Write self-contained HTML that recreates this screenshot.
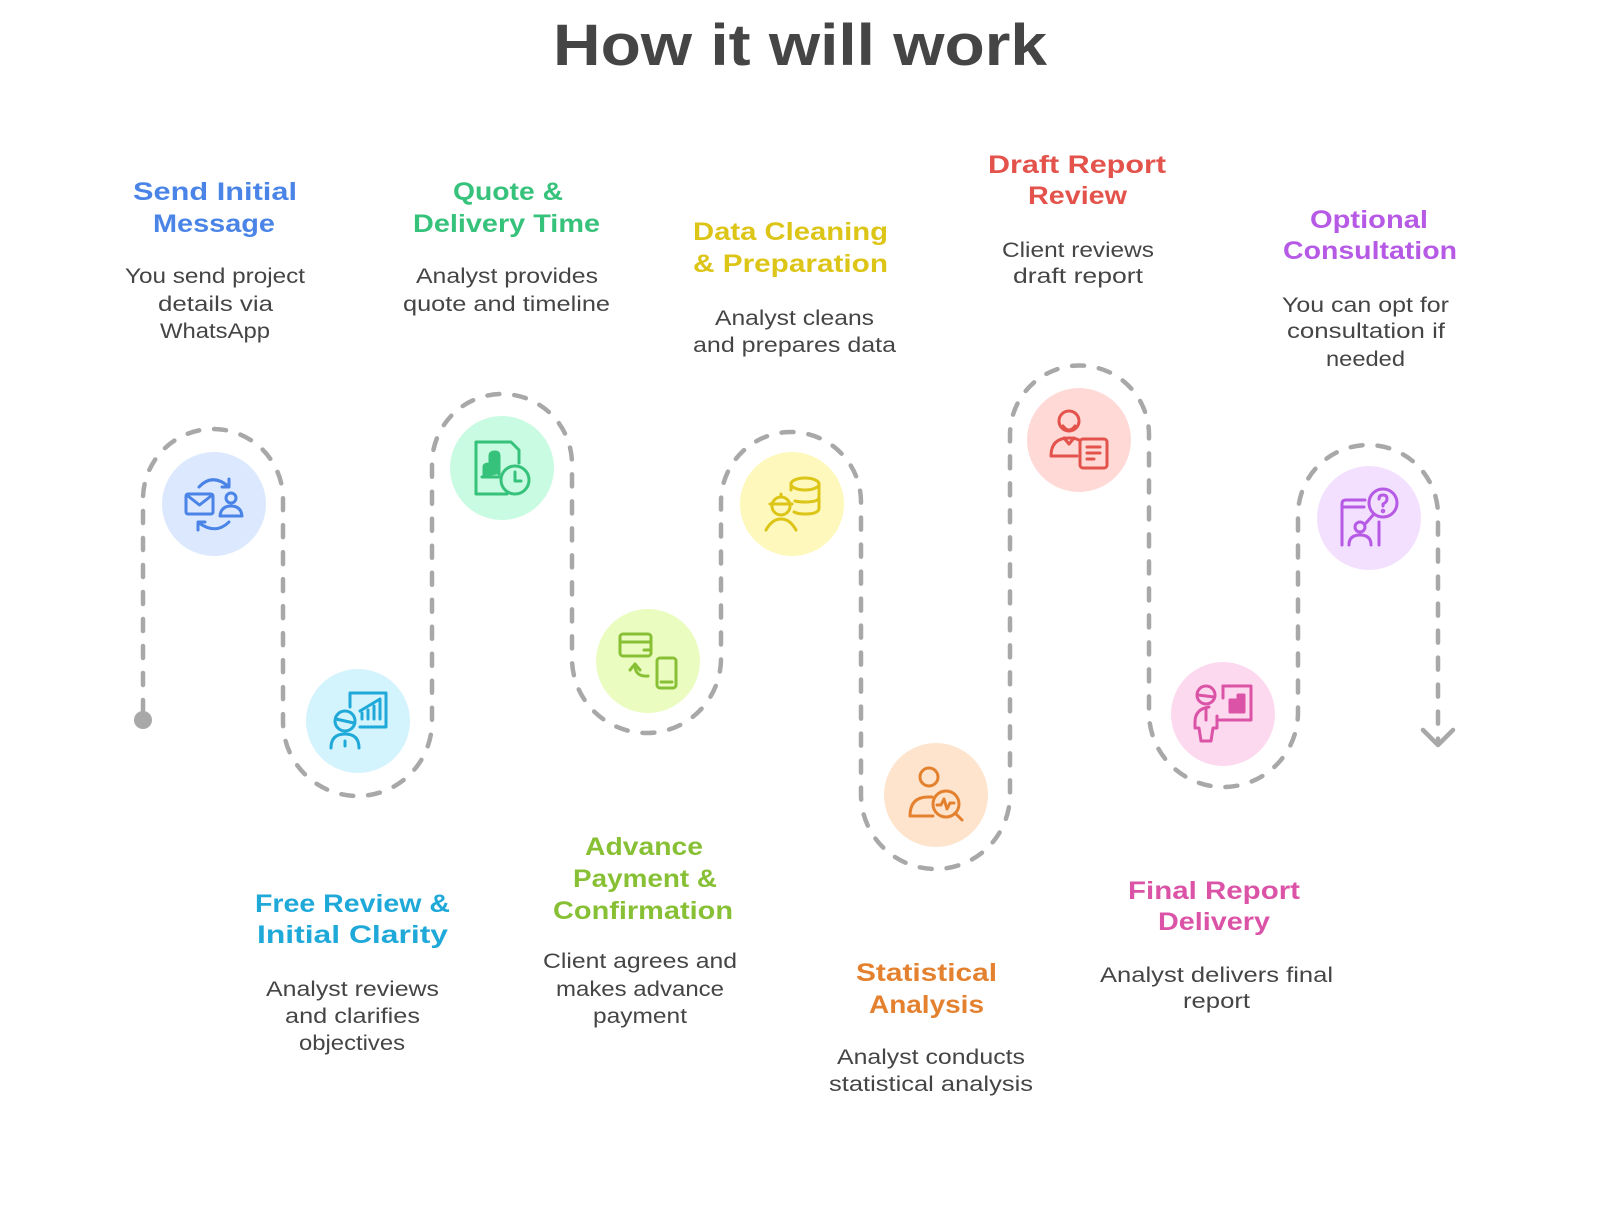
<!DOCTYPE html>
<html>
<head>
<meta charset="utf-8">
<style>
  html,body{margin:0;padding:0;background:#fff;}
  body{width:1600px;height:1206px;overflow:hidden;}
  svg{display:block;}
  .h{font-family:"Liberation Sans",sans-serif;font-weight:bold;font-size:25px;}
  .d{font-family:"Liberation Sans",sans-serif;font-size:21px;fill:#454545;}
  .ic{fill:none;stroke-width:3;stroke-linecap:round;stroke-linejoin:round;}
</style>
</head>
<body>
<svg width="1600" height="1206" viewBox="0 0 1600 1206" xmlns="http://www.w3.org/2000/svg">
  <rect width="1600" height="1206" fill="#fff"/>

  <!-- Title -->
  <text x="553" y="65" font-family="Liberation Sans, sans-serif" font-weight="bold" font-size="58" fill="#454545" textLength="494" lengthAdjust="spacingAndGlyphs">How it will work</text>

  <!-- Dashed path -->
  <path d="M143,712 L143,499 A70,70 0 0 1 283,499 L283,721.5 A74.5,74.5 0 0 0 432,721.5 L432,464 A70,70 0 0 1 572,464 L572,658.5 A74.5,74.5 0 0 0 721,658.5 L721,502 A70,70 0 0 1 861,502 L861,794.5 A74.5,74.5 0 0 0 1010,794.5 L1010,435 A69.5,69.5 0 0 1 1149,435 L1149,712.5 A74.5,74.5 0 0 0 1298,712.5 L1298,515 A70,70 0 0 1 1438,515 L1438,742"
        fill="none" stroke="#a8a8a8" stroke-width="4.5" stroke-dasharray="12 15" stroke-linecap="round"/>
  <circle cx="143" cy="720" r="9" fill="#a8a8a8"/>
  <path d="M1423,730 L1438,745 L1453,730" fill="none" stroke="#a8a8a8" stroke-width="4.5" stroke-linecap="round" stroke-linejoin="round"/>

  <!-- Node circles -->
  <circle cx="214" cy="504" r="52" fill="#dce8fd"/>
  <circle cx="358" cy="721" r="52" fill="#d3f3fd"/>
  <circle cx="502" cy="468" r="52" fill="#c9fbe2"/>
  <circle cx="648" cy="661" r="52" fill="#eafcc0"/>
  <circle cx="792" cy="504" r="52" fill="#fef8bd"/>
  <circle cx="936" cy="795" r="52" fill="#fee4cc"/>
  <circle cx="1079" cy="440" r="52" fill="#fed9d6"/>
  <circle cx="1223" cy="714" r="52" fill="#fdd9ef"/>
  <circle cx="1369" cy="518" r="52" fill="#f3e0fe"/>

  <!-- Icon 1: blue -->
  <g transform="translate(214,504)" class="ic" stroke="#4a84e6">
    <rect x="-28" y="-10" width="27" height="20" rx="2"/>
    <path d="M-26,-8 L-14.5,1 L-3,-8"/>
    <circle cx="17" cy="-6" r="5"/>
    <path d="M6,12 Q7,2 17,2 Q27,2 28,12 Z"/>
    <path d="M-15,-17 Q-2,-31 14,-18"/>
    <path d="M15,-25 L15,-17 L8,-17"/>
    <path d="M15,18 Q2,31 -15,19"/>
    <path d="M-16,26 L-16,18 L-9,18"/>
  </g>

  <!-- Icon 2: cyan -->
  <g transform="translate(358,721)" class="ic" stroke="#1fa9d9">
    <path d="M-8,-14 L-8,-28 L28,-28 L28,6 L2,6"/>
    <path d="M4,-2 L4,-8 M10,-2 L10,-11 M16,-2 L16,-15 M22,-2 L22,-21"/>
    <path d="M2,-10 L22,-22"/>
    <circle cx="-13" cy="0" r="10"/>
    <path d="M-22,-2 L-4,2"/>
    <path d="M-27,27 Q-27,13 -13,13 Q1,13 1,27"/>
    <path d="M-13,20 L-13,25"/>
  </g>

  <!-- Icon 3: green -->
  <g transform="translate(502,468)" class="ic" stroke="#36c27b">
    <path d="M5,26 L-26,26 L-26,-26 L9,-26 L17,-18 L17,-5"/>
    <circle cx="13" cy="12" r="14"/>
    <path d="M13,4 L13,13 L19,13"/>
    <path d="M-18,9 L-18,-1 Q-18,-4 -13,-4 L-12,-4 L-12,-12 Q-12,-16 -7,-16 Q-3,-16 -3,-12 L-3,6" fill="#36c27b"/>
    <path d="M-20,9 L-3,9" />
  </g>

  <!-- Icon 4: lime -->
  <g transform="translate(648,661)" class="ic" stroke="#88c035">
    <rect x="-28" y="-27" width="31" height="22" rx="3"/>
    <path d="M-28,-19 L3,-19"/>
    <path d="M-4,-11 L1,-11"/>
    <rect x="9" y="-3" width="19" height="30" rx="3"/>
    <path d="M13,21 L24,21"/>
    <path d="M0,15 Q-13,16 -13,4"/>
    <path d="M-18,9 L-13,3 L-8,9"/>
  </g>

  <!-- Icon 5: yellow -->
  <g transform="translate(792,504)" class="ic" stroke="#dcc516">
    <ellipse cx="13" cy="-20" rx="14" ry="6"/>
    <path d="M27,-20 L27,4 Q27,10 13,10 Q6,10 2,8"/>
    <path d="M27,-7 Q27,-2 13,-2 Q7,-2 3,-3"/>
    <path d="M-1,-20 L-1,-14"/>
    <circle cx="-11" cy="2" r="9"/>
    <path d="M-22,0 L0,0"/>
    <path d="M-11,-7 L-11,-10"/>
    <path d="M-26,26 Q-20,15 -11,15 Q-2,15 4,26"/>
  </g>

  <!-- Icon 6: orange -->
  <g transform="translate(936,795)" class="ic" stroke="#e4812f">
    <circle cx="-7" cy="-18" r="9"/>
    <path d="M-3,21 L-26,21 Q-26,2 -8,2 L-4,2"/>
    <circle cx="10" cy="9" r="13"/>
    <path d="M19,18 L26,25"/>
    <path d="M1,10 L5,10 L8,4 L11,14 L14,8 L18,8"/>
  </g>

  <!-- Icon 7: red -->
  <g transform="translate(1079,440)" class="ic" stroke="#e3524b">
    <circle cx="-10" cy="-19" r="10"/>
    <path d="M-16,-14 Q-10,-6 -4,-14"/>
    <path d="M-2,16 L-28,16 Q-28,-2 -10,-2 Q-4,-2 0,0"/>
    <path d="M-15,-2 L-10,4 L-5,-2"/>
    <rect x="1" y="-1" width="27" height="29" rx="3"/>
    <path d="M8,7 L21,7 M8,13 L21,13 M8,19 L15,19"/>
  </g>

  <!-- Icon 8: pink -->
  <g transform="translate(1223,714)" class="ic" stroke="#db53a6">
    <circle cx="-17" cy="-19" r="9"/>
    <path d="M-25,-19 L-9,-17"/>
    <path d="M-14,-7 Q-28,-5 -28,8 L-28,14 L-24,14 L-22,27 L-12,27 L-10,14 L-6,14 L-6,2"/>
    <path d="M-17,-6 L-17,6"/>
    <path d="M0,-28 L28,-28 L28,6 L-4,6"/>
    <path d="M0,-28 L0,-16"/>
    <rect x="7" y="-14" width="6" height="12" fill="#db53a6"/>
    <rect x="15" y="-19" width="6" height="17" fill="#db53a6"/>
  </g>

  <!-- Icon 9: purple -->
  <g transform="translate(1369,518)" class="ic" stroke="#b65ae6">
    <path d="M-27,27 L-27,-14 Q-27,-18 -23,-18 L-4,-18"/>
    <path d="M-27,-11 L-5,-11"/>
    <path d="M10,4 L10,27"/>
    <circle cx="14" cy="-15" r="14"/>
    <path d="M10,-19 Q10,-23 14,-23 Q18,-23 18,-19 Q18,-16 14,-14 L14,-12"/>
    <circle cx="14" cy="-7" r="0.8" fill="#b65ae6"/>
    <path d="M5,-4 L-3,5"/>
    <circle cx="-9" cy="9" r="5"/>
    <path d="M-20,27 Q-20,17 -9,17 Q2,17 2,27"/>
  </g>

  <!-- Headings -->
  <g class="h">
    <text x="133" y="200" fill="#4a84e6" textLength="164" lengthAdjust="spacingAndGlyphs">Send Initial</text>
    <text x="153" y="232" fill="#4a84e6" textLength="122" lengthAdjust="spacingAndGlyphs">Message</text>

    <text x="453" y="200" fill="#36c27b" textLength="110" lengthAdjust="spacingAndGlyphs">Quote &amp;</text>
    <text x="413" y="232" fill="#36c27b" textLength="187" lengthAdjust="spacingAndGlyphs">Delivery Time</text>

    <text x="693" y="240" fill="#dcc516" textLength="195" lengthAdjust="spacingAndGlyphs">Data Cleaning</text>
    <text x="693" y="272" fill="#dcc516" textLength="195" lengthAdjust="spacingAndGlyphs">&amp; Preparation</text>

    <text x="988" y="173" fill="#e3524b" textLength="178" lengthAdjust="spacingAndGlyphs">Draft Report</text>
    <text x="1028" y="204" fill="#e3524b" textLength="99" lengthAdjust="spacingAndGlyphs">Review</text>

    <text x="1310" y="228" fill="#b65ae6" textLength="118" lengthAdjust="spacingAndGlyphs">Optional</text>
    <text x="1283" y="259" fill="#b65ae6" textLength="174" lengthAdjust="spacingAndGlyphs">Consultation</text>

    <text x="255" y="912" fill="#1fa9d9" textLength="195" lengthAdjust="spacingAndGlyphs">Free Review &amp;</text>
    <text x="257" y="943" fill="#1fa9d9" textLength="191" lengthAdjust="spacingAndGlyphs">Initial Clarity</text>

    <text x="585" y="855" fill="#88c035" textLength="118" lengthAdjust="spacingAndGlyphs">Advance</text>
    <text x="573" y="887" fill="#88c035" textLength="144" lengthAdjust="spacingAndGlyphs">Payment &amp;</text>
    <text x="553" y="919" fill="#88c035" textLength="180" lengthAdjust="spacingAndGlyphs">Confirmation</text>

    <text x="856" y="981" fill="#e4812f" textLength="141" lengthAdjust="spacingAndGlyphs">Statistical</text>
    <text x="869" y="1013" fill="#e4812f" textLength="115" lengthAdjust="spacingAndGlyphs">Analysis</text>

    <text x="1128" y="899" fill="#db53a6" textLength="172" lengthAdjust="spacingAndGlyphs">Final Report</text>
    <text x="1158" y="930" fill="#db53a6" textLength="112" lengthAdjust="spacingAndGlyphs">Delivery</text>
  </g>

  <!-- Descriptions -->
  <g class="d">
    <text x="125" y="283" textLength="180" lengthAdjust="spacingAndGlyphs">You send project</text>
    <text x="158" y="311" textLength="115" lengthAdjust="spacingAndGlyphs">details via</text>
    <text x="160" y="338" textLength="110" lengthAdjust="spacingAndGlyphs">WhatsApp</text>

    <text x="416" y="283" textLength="182" lengthAdjust="spacingAndGlyphs">Analyst provides</text>
    <text x="403" y="311" textLength="207" lengthAdjust="spacingAndGlyphs">quote and timeline</text>

    <text x="715" y="325" textLength="159" lengthAdjust="spacingAndGlyphs">Analyst cleans</text>
    <text x="693" y="352" textLength="203" lengthAdjust="spacingAndGlyphs">and prepares data</text>

    <text x="1002" y="257" textLength="152" lengthAdjust="spacingAndGlyphs">Client reviews</text>
    <text x="1013" y="283" textLength="130" lengthAdjust="spacingAndGlyphs">draft report</text>

    <text x="1282" y="312" textLength="167" lengthAdjust="spacingAndGlyphs">You can opt for</text>
    <text x="1287" y="338" textLength="158" lengthAdjust="spacingAndGlyphs">consultation if</text>
    <text x="1326" y="366" textLength="79" lengthAdjust="spacingAndGlyphs">needed</text>

    <text x="266" y="996" textLength="173" lengthAdjust="spacingAndGlyphs">Analyst reviews</text>
    <text x="285" y="1023" textLength="135" lengthAdjust="spacingAndGlyphs">and clarifies</text>
    <text x="299" y="1050" textLength="106" lengthAdjust="spacingAndGlyphs">objectives</text>

    <text x="543" y="968" textLength="194" lengthAdjust="spacingAndGlyphs">Client agrees and</text>
    <text x="556" y="996" textLength="168" lengthAdjust="spacingAndGlyphs">makes advance</text>
    <text x="593" y="1023" textLength="94" lengthAdjust="spacingAndGlyphs">payment</text>

    <text x="837" y="1064" textLength="188" lengthAdjust="spacingAndGlyphs">Analyst conducts</text>
    <text x="829" y="1091" textLength="204" lengthAdjust="spacingAndGlyphs">statistical analysis</text>

    <text x="1100" y="982" textLength="233" lengthAdjust="spacingAndGlyphs">Analyst delivers final</text>
    <text x="1183" y="1008" textLength="67" lengthAdjust="spacingAndGlyphs">report</text>
  </g>
</svg>
</body>
</html>
